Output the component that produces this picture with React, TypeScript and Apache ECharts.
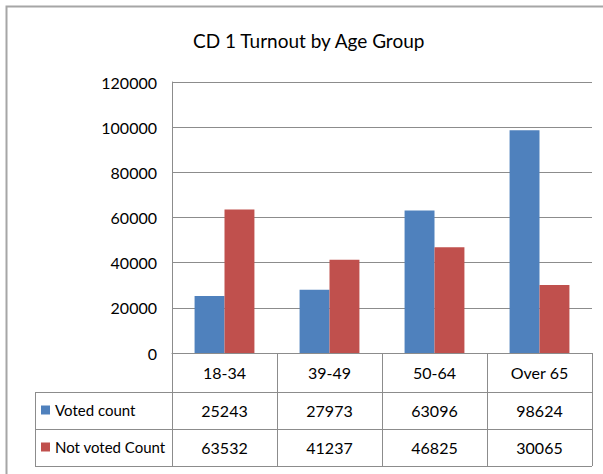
import React, { useEffect, useRef } from "react";
import * as echarts from "echarts";

const categories = ["18-34", "39-49", "50-64", "Over 65"];
const votedCount = [25243, 27973, 63096, 98624];
const notVotedCount = [63532, 41237, 46825, 30065];
const seriesNames = ["Voted count", "Not voted Count"];
const titleText = "CD 1 Turnout by Age Group";

const FONT = "Lato, 'Noto Sans', sans-serif";
const GRID = "#8c8c8c";

export default function App() {
  const ref = useRef<HTMLDivElement>(null);
  useEffect(() => {
    if (!ref.current) return;
    const chart = echarts.init(ref.current, undefined, { renderer: "svg" });
    const lineStyle = { stroke: GRID, lineWidth: 1 };
    chart.setOption({
      animation: false,
      backgroundColor: "#ffffff",
      color: ["#4F81BD", "#C0504D"],
      title: {
        text: titleText,
        left: 193,
        top: 31,
        padding: 0,
        textStyle: { fontFamily: FONT, fontSize: 19, fontWeight: "normal", color: "#000" },
      },
      legend: {
        orient: "vertical",
        left: 41,
        top: 402,
        padding: 0,
        itemWidth: 9,
        itemHeight: 9,
        itemGap: 21,
        icon: "rect",
        selectedMode: false,
        data: seriesNames,
        textStyle: { fontFamily: FONT, fontSize: 15, color: "#000", lineHeight: 16 },
      },
      grid: { left: 172, top: 82, right: 11, bottom: 121, containLabel: false },
      xAxis: [
        {
          type: "category",
          data: categories,
          position: "bottom",
          axisLine: { show: true, lineStyle: { color: GRID } },
          axisTick: { show: true, length: 113, lineStyle: { color: GRID } },
          axisLabel: { margin: 11, fontFamily: FONT, fontSize: 16, color: "#000" },
        },
        {
          type: "category",
          data: votedCount.map(String),
          position: "bottom",
          offset: 38,
          axisLine: { show: false },
          axisTick: { show: false },
          axisLabel: { margin: 11, fontFamily: FONT, fontSize: 16, color: "#000" },
        },
        {
          type: "category",
          data: notVotedCount.map(String),
          position: "bottom",
          offset: 75,
          axisLine: { show: false },
          axisTick: { show: false },
          axisLabel: { margin: 11, fontFamily: FONT, fontSize: 16, color: "#000" },
        },
      ],
      yAxis: {
        type: "value",
        min: 0,
        max: 120000,
        interval: 20000,
        axisLine: { show: true, lineStyle: { color: GRID } },
        axisTick: { show: false },
        splitLine: { show: true, lineStyle: { color: GRID } },
        axisLabel: {
          margin: 15,
          fontFamily: FONT,
          fontSize: 16,
          color: "#000",
          formatter: (v: number) => String(v),
        },
      },
      series: [
        {
          name: seriesNames[0],
          type: "bar",
          data: votedCount,
          xAxisIndex: 0,
          barGap: "0%",
          barCategoryGap: "43%",
        },
        {
          name: seriesNames[1],
          type: "bar",
          data: notVotedCount,
          xAxisIndex: 0,
          barGap: "0%",
          barCategoryGap: "43%",
        },
      ],
      graphic: [
        {
          type: "rect",
          shape: { x: 6.5, y: 6.5, width: 800, height: 800 },
          style: { fill: "none", stroke: "#a6a6a6", lineWidth: 2 },
          silent: true,
        },
        { type: "line", shape: { x1: 35, y1: 392.5, x2: 592, y2: 392.5 }, style: lineStyle, silent: true },
        { type: "line", shape: { x1: 35, y1: 429.5, x2: 592, y2: 429.5 }, style: lineStyle, silent: true },
        { type: "line", shape: { x1: 35, y1: 466.5, x2: 592, y2: 466.5 }, style: lineStyle, silent: true },
        { type: "line", shape: { x1: 35.5, y1: 392, x2: 35.5, y2: 467 }, style: lineStyle, silent: true },
      ],
    });
    return () => chart.dispose();
  }, []);
  return (
    <div
      ref={ref}
      style={{ position: "absolute", left: 0, top: 0, width: 603, height: 474 }}
    />
  );
}
